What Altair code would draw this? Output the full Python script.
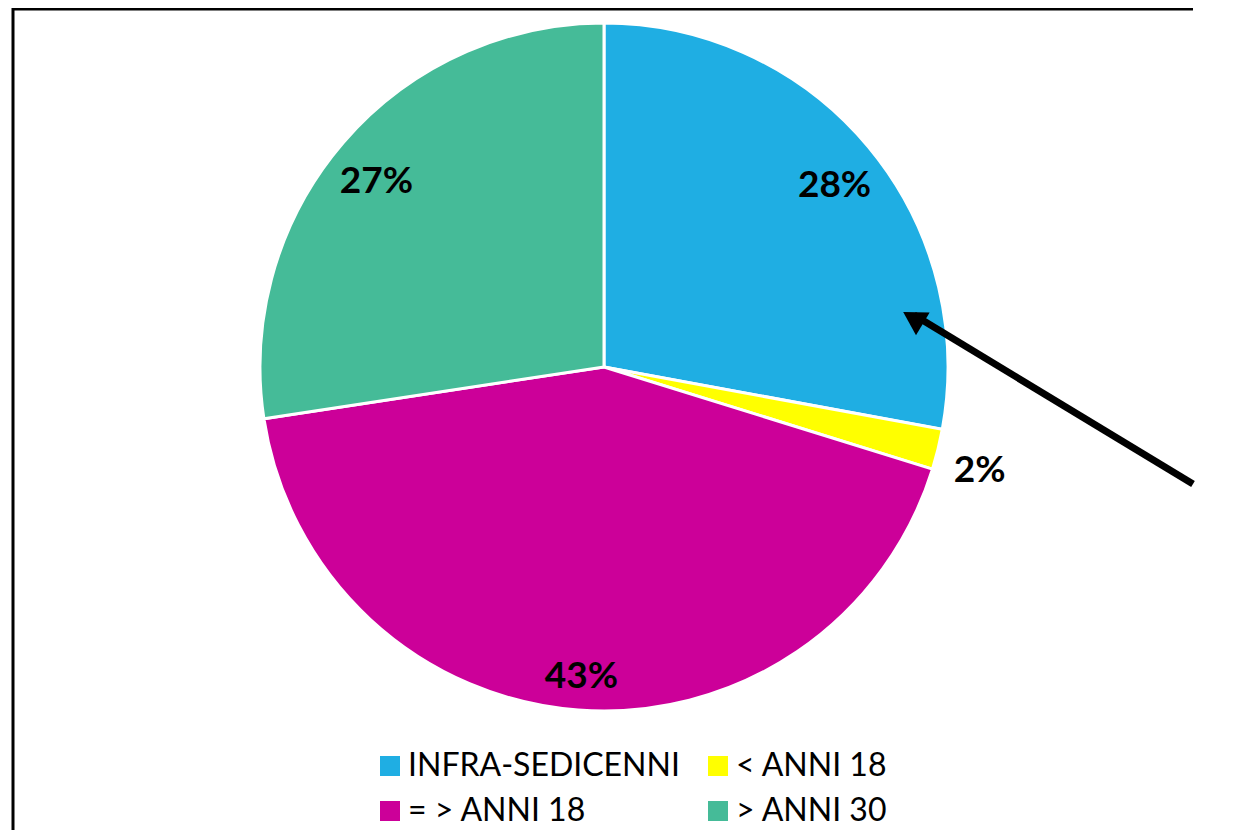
import altair as alt
import pandas as pd

categories = ["INFRA-SEDICENNI", "< ANNI 18", "= > ANNI 18", "> ANNI 30"]
values = [27.9, 1.9, 42.8, 27.4]
colors = ["#1FAEE3", "#FFFF00", "#CC0099", "#45BB98"]

# legend reads row by row in the reference; Vega fills legend columns top-down
legend_order = ["INFRA-SEDICENNI", "= > ANNI 18", "< ANNI 18", "> ANNI 30"]
legend_colors = [colors[categories.index(c)] for c in legend_order]

df = pd.DataFrame({"category": categories, "value": values, "idx": list(range(len(categories)))})

W, H = 1225, 822
CX, CY, R = 596, 359, 344

arcs = alt.Chart(df).mark_arc(radius=R, stroke="white", strokeWidth=3).encode(
    theta=alt.Theta("value:Q", stack=True),
    order=alt.Order("idx:Q"),
    x=alt.value(CX),
    y=alt.value(CY),
    color=alt.Color(
        "category:N",
        scale=alt.Scale(domain=legend_order, range=legend_colors),
        legend=alt.Legend(
            orient="none", legendX=366, legendY=742, columns=2, title=None,
            symbolType="square", symbolSize=400, symbolStrokeWidth=0,
            labelFont="Lato", labelFontSize=32, labelColor="black",
            labelOffset=2, rowPadding=13, columnPadding=22, padding=0,
            labelLimit=400,
        ),
    ),
)

labels = alt.Chart(df).transform_window(
    cum="sum(value)", sort=[alt.SortField("idx")], frame=[None, 0]
).transform_joinaggregate(
    total="sum(value)"
).transform_calculate(
    frac="(datum.cum - datum.value / 2) / datum.total",
    r="datum.value < 5 ? 387 : 300",
    label="format(round(datum.value), 'd') + '%'",
).mark_text(font="Lato", fontWeight="bold", fontSize=37, color="black", dy=11).encode(
    theta=alt.Theta("frac:Q", stack=None, scale=alt.Scale(domain=[0, 1], range=[0, 6.283185307179586])),
    radius=alt.Radius("r:Q", scale=None),
    x=alt.value(CX),
    y=alt.value(CY),
    text="label:N",
)

arrow_line = alt.Chart(pd.DataFrame({"a": [0]})).mark_rule(color="black", strokeWidth=7).encode(
    x=alt.value(W - 40), x2=alt.value(906), y=alt.value(476), y2=alt.value(307)
)
arrow_head = alt.Chart(pd.DataFrame({"a": [0]})).mark_point(
    shape="triangle-up", size=700, filled=True, color="black", opacity=1, angle=301
).encode(x=alt.value(905), y=alt.value(310))

border_left = alt.Chart(pd.DataFrame({"a": [0]})).mark_rule(color="black", strokeWidth=3).encode(
    x=alt.value(5), y=alt.value(0), y2=alt.value(H)
)
border_top = alt.Chart(pd.DataFrame({"a": [0]})).mark_rule(color="black", strokeWidth=3).encode(
    x=alt.value(5), x2=alt.value(W - 40), y=alt.value(1)
)

chart = alt.layer(arcs, labels, arrow_line, arrow_head, border_left, border_top).resolve_scale(
    theta="independent"
).properties(
    width=W, height=H, padding=0, autosize=alt.AutoSizeParams(type="none")
).configure_view(stroke=None)

chart.save("out.html", embed_options={"renderer": "svg", "actions": False})
